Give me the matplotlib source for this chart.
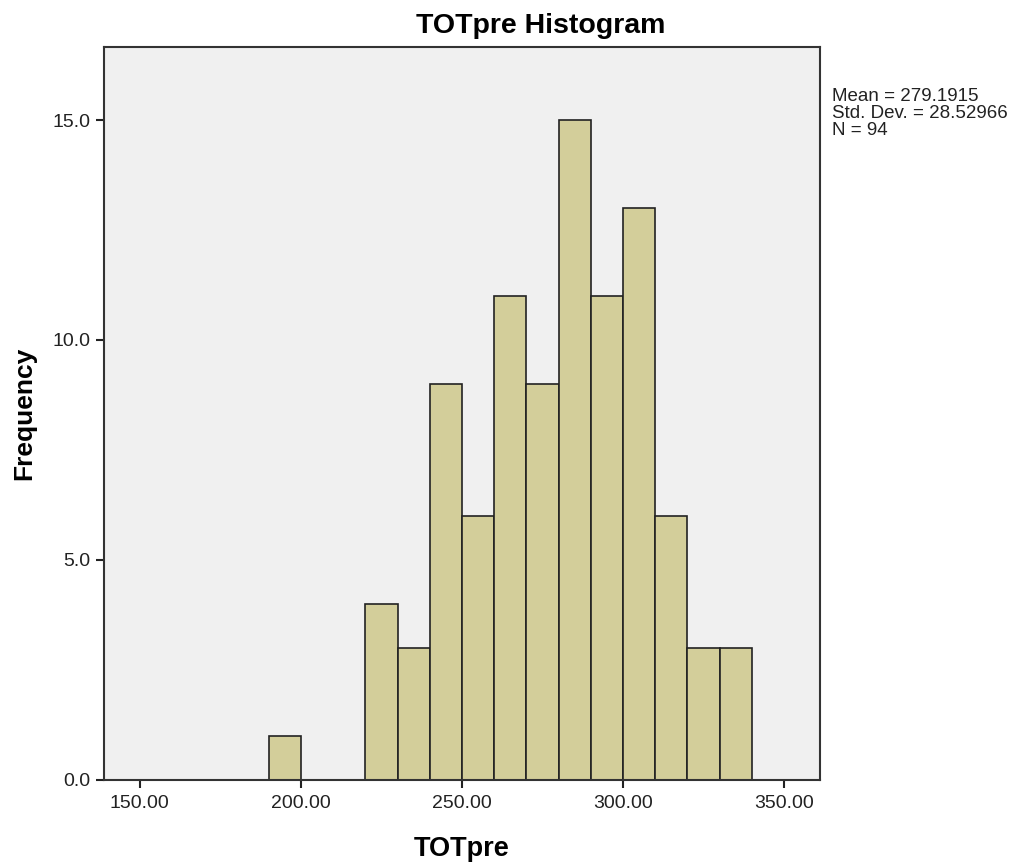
import numpy as np
import matplotlib.pyplot as plt

# histogram bins (left edges, width 10) and counts
bin_edges = [190, 200, 210, 220, 230, 240, 250, 260, 270, 280, 290, 300, 310, 320, 330, 340]
counts = [1, 0, 0, 4, 3, 9, 6, 11, 9, 15, 11, 13, 6, 3, 3]
x_ticks = [150, 200, 250, 300, 350]
y_ticks = [0, 5, 10, 15]
stats_text = "Mean = 279.1915\nStd. Dev. = 28.52966\nN = 94"

plt.rcParams['font.family'] = ['Liberation Sans', 'DejaVu Sans']

fig = plt.figure(figsize=(10.18, 8.65), dpi=100)
ax = fig.add_axes([0.1022, 0.0983, 0.7035, 0.8474])
ax.set_facecolor('#f0f0f0')

ax.hist(bin_edges[:-1], bins=bin_edges, weights=counts,
        color='#d3ce9a', edgecolor='#222222', linewidth=1.2)

ax.set_xlim(138.9, 361.2)
ax.set_ylim(0, 16.66)
ax.set_xticks(x_ticks)
ax.set_xticklabels([f"{v:.2f}" for v in x_ticks])
ax.set_yticks(y_ticks)
ax.set_yticklabels([f"{v:.1f}" for v in y_ticks])
ax.tick_params(direction='out', length=6, width=1.5, colors='#222222',
               labelsize=14, labelcolor='#222222')
ax.tick_params(axis='x', pad=5)
for s in ax.spines.values():
    s.set_linewidth(1.5)
    s.set_color('#333333')

# SPSS centres the title over the whole chart area, not the axes
fig.text(0.5315, 0.9618, "TOTpre Histogram", fontsize=20.5, fontweight='bold',
         ha='center', va='baseline')
ax.set_xlabel("TOTpre", fontsize=19.5, fontweight='bold', labelpad=17)
ax.set_ylabel("Frequency", fontsize=19, fontweight='bold', labelpad=12)

fig.text(0.817, 0.898, stats_text, fontsize=13.5, va='top', ha='left',
         linespacing=1.0, color='#222222')

fig.savefig("out.png", dpi=100)
